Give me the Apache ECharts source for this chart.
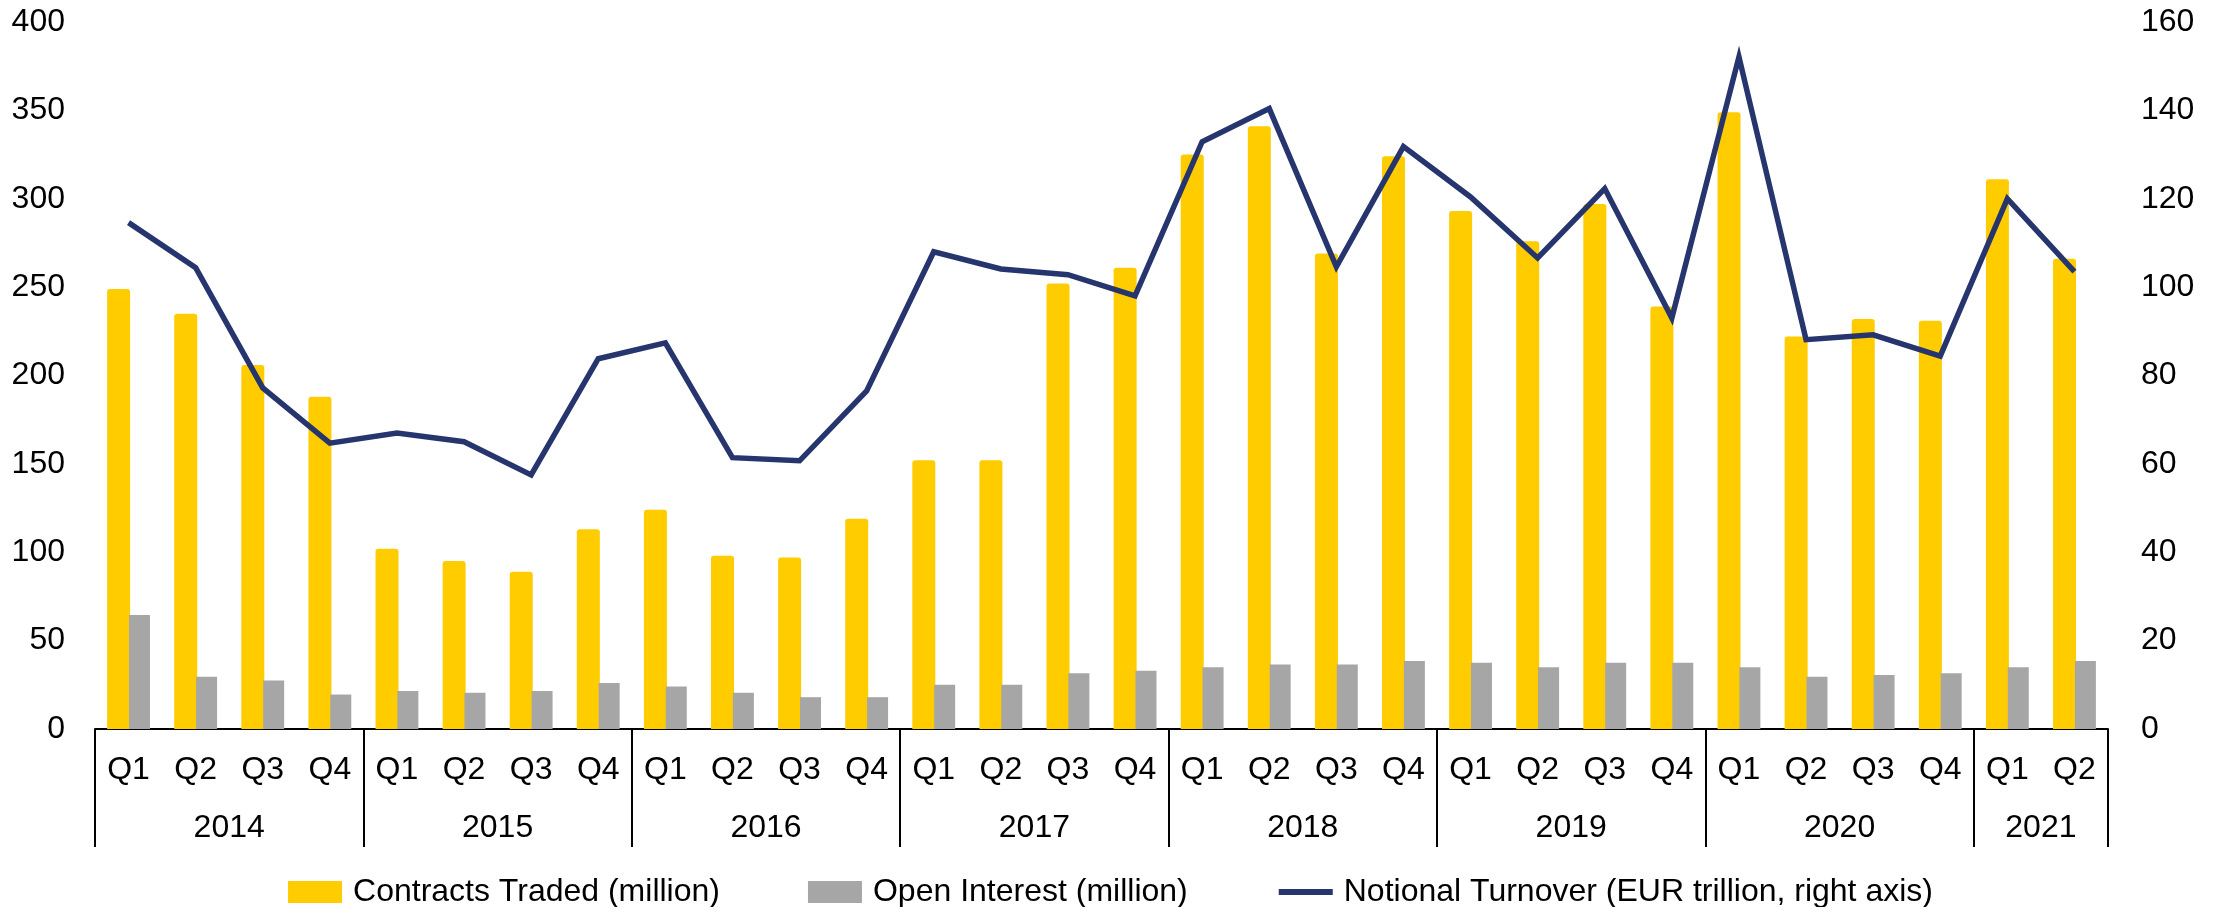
<!DOCTYPE html>
<html>
<head>
<meta charset="utf-8">
<script src="https://cdn.jsdelivr.net/npm/echarts@6/dist/echarts.min.js"></script>
<style>
  html, body { margin: 0; padding: 0; background: #fff; }
  #chart { width: 2221px; height: 907px; }
</style>
</head>
<body>
<div id="chart"></div>
<script>
// quarters on the lower axis row, years on the second row
const years = ['2014', '2015', '2016', '2017', '2018', '2019', '2020', '2021']
const quartersPerYear = [4, 4, 4, 4, 4, 4, 4, 2]
const quarterNames = ['Q1', 'Q2', 'Q3', 'Q4']

// left axis (million)
const contractsTraded = [249, 235, 206, 188, 102, 95, 89, 113, 124, 98, 97, 119,
  152, 152, 252, 261, 325, 341, 269, 324, 293, 276, 297, 239,
  349, 222, 232, 231, 311, 266]
const openInterest = [64.5, 29.5, 27.5, 19.5, 21.5, 20.5, 21.5, 26, 24, 20.5, 18, 18,
  25, 25, 31.5, 33, 35, 36.5, 36.5, 38.5, 37.5, 35, 37.5, 37.5,
  35, 29.5, 30.5, 31.5, 35, 38.5]
// right axis (EUR trillion)
const notionalTurnover = [114.6, 104.4, 77.2, 64.7, 67, 65, 57.5, 83.8, 87.4, 61.4, 60.7, 76.5,
  108, 104.1, 102.8, 98, 132.9, 140.4, 104.6, 131.8, 120.4, 106.6, 122.3, 93,
  152.1, 88.1, 89.2, 84.4, 120, 103.5]

const leftTicks = { min: 0, max: 400, interval: 50 }
const rightTicks = { min: 0, max: 160, interval: 20 }

// build the category list and where each year starts / is centred
let categories = []
let yearStart = []
let yearCentre = {}
quartersPerYear.forEach((n, i) => {
  yearStart.push(categories.length)
  yearCentre[categories.length + n / 2] = years[i]
  for (let q = 0; q < n; q++) categories.push(quarterNames[q])
})

const navy = '#26356E'
const font = 'Liberation Sans'
const txt = { color: '#000', fontFamily: font, fontSize: 32 }

let chart = echarts.init(document.getElementById('chart'))

chart.setOption({
  animation: false,
  grid: { left: 95, right: 113, top: 22, bottom: 178 },
  legend: {
    left: 'center',
    top: 871,
    itemWidth: 54,
    itemHeight: 22,
    itemGap: 88,
    textStyle: Object.assign({ padding: [0, 0, 0, 6] }, txt),
    data: [
      { name: 'Contracts Traded (million)', icon: 'rect' },
      { name: 'Open Interest (million)', icon: 'rect' },
      {
        name: 'Notional Turnover (EUR trillion, right axis)',
        itemStyle: { opacity: 0 },
        lineStyle: { color: navy, width: 6 }
      }
    ]
  },
  xAxis: [
    {
      type: 'category',
      data: categories,
      position: 'bottom',
      axisLine: { lineStyle: { color: '#000', width: 2 } },
      axisTick: {
        show: true,
        length: 118,
        interval: (index) => yearStart.indexOf(index) >= 0,
        lineStyle: { color: '#000', width: 2 }
      },
      axisLabel: Object.assign({ margin: 25, interval: 0 }, txt)
    },
    {
      type: 'value',
      position: 'bottom',
      min: 0,
      max: categories.length,
      interval: 1,
      axisLine: { show: false },
      axisTick: { show: false },
      splitLine: { show: false },
      axisLabel: Object.assign({
        margin: 83,
        formatter: (v) => yearCentre[v] || ''
      }, txt)
    }
  ],
  yAxis: [
    {
      type: 'value',
      min: leftTicks.min,
      max: leftTicks.max,
      interval: leftTicks.interval,
      axisLine: { show: false },
      axisTick: { show: false },
      splitLine: { show: false },
      axisLabel: Object.assign({ margin: 30 }, txt)
    },
    {
      type: 'value',
      position: 'right',
      min: rightTicks.min,
      max: rightTicks.max,
      interval: rightTicks.interval,
      axisLine: { show: false },
      axisTick: { show: false },
      splitLine: { show: false },
      axisLabel: Object.assign({ margin: 33 }, txt)
    }
  ],
  series: [
    {
      name: 'Contracts Traded (million)',
      type: 'bar',
      xAxisIndex: 0,
      yAxisIndex: 0,
      data: contractsTraded,
      barWidth: 23,
      barGap: '-5%',
      itemStyle: { color: '#FFCC00', borderRadius: [3, 3, 0, 0] }
    },
    {
      name: 'Open Interest (million)',
      type: 'bar',
      xAxisIndex: 0,
      yAxisIndex: 0,
      data: openInterest,
      barWidth: 21,
      itemStyle: { color: '#A6A6A6' }
    },
    {
      name: 'Notional Turnover (EUR trillion, right axis)',
      type: 'line',
      xAxisIndex: 0,
      yAxisIndex: 1,
      data: notionalTurnover,
      symbol: 'none',
      z: 5,
      lineStyle: { color: navy, width: 5.5, join: 'miter' },
      itemStyle: { color: navy }
    }
  ]
})
</script>
</body>
</html>
